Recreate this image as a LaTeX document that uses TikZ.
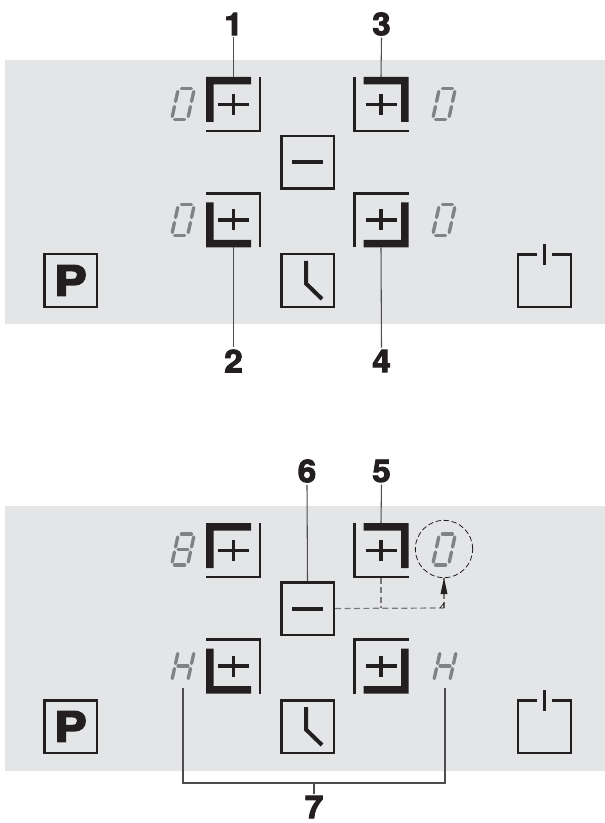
\documentclass[tikz,border=0pt]{standalone}
\usepackage{fontspec}
\usetikzlibrary{arrows.meta,calc}
\newfontfamily\heavyfont[FakeBold=3,FakeStretch=1.06]{TeX Gyre Heros Bold}
\newfontfamily\pfont[FakeBold=4,FakeStretch=1.18]{TeX Gyre Heros Bold}
\definecolor{panel}{HTML}{E4E5E7}
\definecolor{ink}{HTML}{231F20}
\definecolor{seg}{HTML}{808285}
\definecolor{lead}{HTML}{4D4D4F}
\tikzset{
  px/.style={x=0.75pt,y=-0.75pt},
  num/.style={font=\heavyfont\fontsize{23.5}{23.5}\selectfont,text=ink,inner sep=1.5pt},
  keyarea/.style={minimum size=41.25pt,inner sep=0pt,outer sep=0pt},
  iconbox/.style={draw=ink,line width=1.9pt,minimum size=39.4pt,inner sep=0pt,outer sep=0.95pt},
  thinline/.style={draw=ink,line width=1.6pt},
  plusline/.style={draw=ink,line width=2.4pt},
  segline/.style={draw=seg,line width=2.5pt,line cap=round},
  leader/.style={draw=lead,line width=0.8pt},
  dashline/.style={draw=lead!75,line width=0.9pt,dash pattern=on 4.5pt off 2.6pt},
  digitarea/.style={minimum width=18pt,minimum height=33pt,inner sep=0pt,outer sep=0pt}
}
% key: name, cx, cy, sx, sy
\newcommand{\plkey}[5]{%
  \node[keyarea] (#1) at (#2,#3) {};
  \begin{scope}[shift={(#2,#3)}]
    \fill[ink] ({#4*27.5},{#5*27.5}) -- ({-#4*17.5},{#5*27.5}) -- ({-#4*17.5},{#5*20}) -- ({#4*20},{#5*20}) -- ({#4*20},{-#5*17.5}) -- ({#4*27.5},{-#5*17.5}) -- cycle;
    \draw[thinline] ({-#4*26.5},{#5*27.5}) -- ({-#4*26.5},{-#5*26.5}) -- ({#4*27.5},{-#5*26.5});
    \draw[plusline] (-15.5,0) -- (15.5,0) (0,-10.5) -- (0,10.5);
  \end{scope}}
% segments
\newcommand{\sega}{\draw[segline] (-5,-15.5) -- (5,-15.5);}
\newcommand{\segb}{\draw[segline] (8,-12.5) -- (8,-2.5);}
\newcommand{\segc}{\draw[segline] (8,2.5) -- (8,12.5);}
\newcommand{\segd}{\draw[segline] (-5,15.5) -- (5,15.5);}
\newcommand{\sege}{\draw[segline] (-8,2.5) -- (-8,12.5);}
\newcommand{\segf}{\draw[segline] (-8,-12.5) -- (-8,-2.5);}
\newcommand{\segg}{\draw[segline] (-5,0) -- (5,0);}
\newcommand{\dzero}[3]{\node[digitarea] (#1) at (#2,#3) {};
  \begin{scope}[shift={(#2,#3)},xslant=0.22]\sega\segb\segc\segd\sege\segf\end{scope}}
\newcommand{\deight}[3]{\node[digitarea] (#1) at (#2,#3) {};
  \begin{scope}[shift={(#2,#3)},xslant=0.22]\sega\segb\segc\segd\sege\segf\segg\end{scope}}
\newcommand{\dhh}[3]{\node[digitarea] (#1) at (#2,#3) {};
  \begin{scope}[shift={(#2,#3)},xslant=0.22]\segb\segc\sege\segf\segg\end{scope}}
\newcommand{\commonicons}[2]{% suffix, y offset
  \node[iconbox] (minus#1) at (307.5,{162.5+#2}) {};
  \fill[ink] (292,{160.5+#2}) rectangle (323,{164.5+#2});
  \node[iconbox,font=\pfont\fontsize{31}{31}\selectfont,text=ink] (prog#1) at (70.5,{280.5+#2}) {P};
  \node[iconbox] (clock#1) at (307.5,{280.5+#2}) {};
  \draw[ink,line width=3pt] (306,{261+#2}) -- (306,{283.5+#2}) -- (322,{299+#2});
  \node[keyarea] (power#1) at (544.5,{280.5+#2}) {};
  \draw[ink,line width=2pt] (537,{254.5+#2}) -- (518,{254.5+#2}) -- (518,{307+#2}) -- (571,{307+#2}) -- (571,{254.5+#2}) -- (552,{254.5+#2});
  \draw[ink,line width=2.3pt] (544.5,{244+#2}) -- (544.5,{265+#2});
}
\begin{document}
\begin{tikzpicture}[px]
\useasboundingbox (0,0) rectangle (605,823);
\fill[white] (0,0) rectangle (605,823);
\fill[panel] (5,60) rectangle (605,324);
\fill[panel] (5,506) rectangle (605,771);
% top panel
\plkey{ka}{233.5}{104.5}{-1}{-1}
\plkey{kc}{381}{104.5}{1}{-1}
\plkey{kb}{233.5}{220}{-1}{1}
\plkey{kd}{381}{220}{1}{1}
\commonicons{T}{0}
\dzero{da}{183}{104}
\dzero{dc}{444}{104}
\dzero{db}{183}{220}
\dzero{dd}{444}{220}
\node[num] (n1) at (233.5,24) {1};
\node[num] (n3) at (381.5,24) {3};
\node[num] (n2) at (233.5,361) {2};
\node[num] (n4) at (381.5,361) {4};
\draw[leader] (n1.south) -- (ka.north);
\draw[leader] (n3.south) -- (kc.north);
\draw[leader] (n2.north) -- (kb.south);
\draw[leader] (n4.north) -- (kd.south);
% bottom panel
\plkey{ke}{233.5}{550.5}{-1}{-1}
\plkey{kg}{381}{550.5}{1}{-1}
\plkey{kf}{233.5}{666}{-1}{1}
\plkey{kh}{381}{666}{1}{1}
\commonicons{B}{446}
\deight{de}{183}{549.5}
\dzero{dg}{444}{549.5}
\dhh{df}{183}{666}
\dhh{dh}{445}{666}
\node[draw=ink,line width=0.6pt,dash pattern=on 4pt off 2pt,circle,minimum size=43pt,inner sep=0pt,outer sep=0pt] (ring) at (444,549) {};
\node[num] (n5) at (381.5,471) {5};
\node[num] (n6) at (307,471) {6};
\node[num] (n7) at (314,807) {7};
\draw[leader] (n5.south) -- (kg.north);
\draw[leader] (n6.south) -- (minusB.north);
% bracket 7
\coordinate (brl) at (183,783);
\coordinate (brr) at (445,783);
\coordinate (brm) at (314,783);
\draw[leader] (df.south) -- (brl) -- (brr) -- (dh.south);
\draw[leader] (brm) -- (n7.north);
% dashed connection
\coordinate (dcorner) at (444,608);
\coordinate (djoin) at (381,608);
\draw[dashline] (minusB.east) -- (dcorner);
\draw[dashline] (kg.south) -- (djoin);
\draw[dashline] (dcorner) -- (ring.south);
\fill[ink] (ring.south) -- (447.5,594) -- (440.5,594) -- cycle;
\draw[draw=ink,line width=0.5pt] (440,608) -- (444,603) -- (444,608);
\end{tikzpicture}
\end{document}
